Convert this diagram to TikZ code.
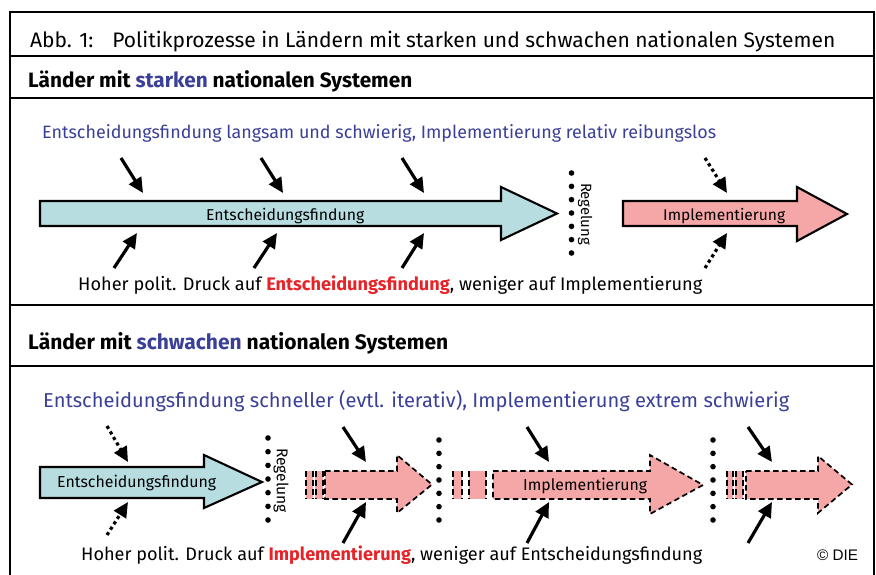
\documentclass[tikz,border=0pt]{standalone}
\usepackage{fontspec}
\setmainfont{Fira Sans}
\newfontfamily\arialf{Liberation Sans}
\usepackage{graphicx}
\usetikzlibrary{arrows.meta}
\definecolor{txtblue}{RGB}{58,63,151}
\definecolor{txtred}{RGB}{232,35,40}
\definecolor{fillblue}{RGB}{184,221,224}
\definecolor{fillred}{RGB}{245,166,166}
\newcommand\fitw[2]{\resizebox{#1pt}{!}{#2}}
\begin{document}
\begin{tikzpicture}[x=1pt,y=-1pt,
  frameline/.style={line width=1.9pt},
  solidshape/.style={draw=black,line width=2.1pt,line join=miter},
  dashshape/.style={draw=black,line width=1.7pt,dash pattern=on 5.5pt off 3.5pt,line join=miter},
  press/.style={line width=3.2pt,-{Triangle[length=15pt,width=14pt]}},
  pressdot/.style={press,dash pattern=on 3.2pt off 3.2pt},
  txt/.style={inner sep=0pt,anchor=base west},
  dot/.style={fill=black}
]
\useasboundingbox (0,0) rectangle (876,574);
% frame
\draw[frameline] (10,576) -- (10,12) -- (874,12) -- (874,576);
\draw[frameline] (10,56) -- (874,56);
\draw[frameline] (10,98) -- (874,98);
\draw[frameline] (10,305) -- (874,305);
\draw[frameline] (10,366) -- (874,366);

% titles
\node[txt] (title) at (30,47.5) {\fitw{805}{Abb. 1:\hspace{0.9em}Politikprozesse in Ländern mit starken und schwachen nationalen Systemen}};
\node[txt] (head1) at (28,87) {\fitw{384}{\bfseries Länder mit {\color{txtblue}starken} nationalen Systemen}};
\node[txt,text=txtblue] (sub1) at (42,138.5) {\fitw{674}{Entscheidungsfindung langsam und schwierig, Implementierung relativ reibungslos}};
\node[txt] (head2) at (28,349) {\fitw{420}{\bfseries Länder mit {\color{txtblue}schwachen} nationalen Systemen}};
\node[txt,text=txtblue] (sub2) at (43,407) {\fitw{746}{Entscheidungsfindung schneller (evtl. iterativ), Implementierung extrem schwierig}};

% ---------- top section ----------
\draw[solidshape,fill=fillblue] (40,201) -- (501,201) -- (501,187) -- (557,213.5) -- (501,240) -- (501,226) -- (40,226) -- cycle;
\node[txt] (ef1) at (206,220) {\fitw{158}{Entscheidungsfindung}};
\draw[solidshape,fill=fillred] (623,201) -- (797,201) -- (797,187) -- (847,214) -- (797,241) -- (797,226) -- (623,226) -- cycle;
\node[txt] (im1) at (663,220) {\fitw{122}{Implementierung}};

\foreach \i in {0,...,6} \fill[dot] (571.5,{173+\i*13.33}) circle (2.8pt);
\node[inner sep=0pt,rotate=-90] (reg1) at (585,214) {\fitw{62}{Regelung}};

\coordinate (t1s) at (121,158); \coordinate (t1e) at (143,193);
\coordinate (t2s) at (261,158); \coordinate (t2e) at (283,193);
\coordinate (t3s) at (402,158); \coordinate (t3e) at (424,193);
\coordinate (b1s) at (114,268); \coordinate (b1e) at (137,233);
\coordinate (b2s) at (254,268); \coordinate (b2e) at (277,233);
\coordinate (b3s) at (402,268); \coordinate (b3e) at (424,233);
\coordinate (t4s) at (705,158); \coordinate (t4e) at (727,193);
\coordinate (b4s) at (705,268); \coordinate (b4e) at (727,233);
\draw[press] (t1s) -- (t1e);
\draw[press] (t2s) -- (t2e);
\draw[press] (t3s) -- (t3e);
\draw[press] (b1s) -- (b1e);
\draw[press] (b2s) -- (b2e);
\draw[press] (b3s) -- (b3e);
\draw[pressdot] (t4s) -- (t4e);
\draw[pressdot] (b4s) -- (b4e);

\node[txt] (bot1) at (78,290) {\fitw{624}{Hoher polit. Druck auf {\bfseries\color{txtred}Entscheidungsfindung}, weniger auf Implementierung}};

% ---------- bottom section ----------
\draw[solidshape,fill=fillblue] (40,467) -- (204,467) -- (204,455) -- (262,482) -- (204,508) -- (204,498) -- (40,498) -- cycle;
\node[txt] (ef2) at (57,487) {\fitw{159}{Entscheidungsfindung}};

\foreach \i in {0,...,6} \fill[dot] (268,{438+\i*13.67}) circle (2.8pt);
\node[inner sep=0pt,rotate=-90] (reg2) at (281,480.5) {\fitw{65}{Regelung}};

% red dashed arrow 1
\fill[fillred] (306,471) rectangle (313,499);
\fill[fillred] (315,471) rectangle (323,499);
\draw[dashshape] (306,471) -- (306,499);
\draw[dashshape] (313,471) -- (313,499);
\draw[dashshape] (316,471) -- (316,499);
\draw[dashshape] (323,471) -- (323,499);
\draw[dashshape,fill=fillred] (325,471) -- (397,471) -- (397,455) -- (432,484.5) -- (397,513) -- (397,499) -- (325,499) -- cycle;

\foreach \i in {0,...,6} \fill[dot] (439,{440+\i*13.33}) circle (2.8pt);

% red dashed arrow 2
\fill[fillred] (453,471) rectangle (462,499);
\fill[fillred] (469,471) rectangle (486,499);
\draw[dashshape] (453,471) -- (453,499);
\draw[dashshape] (462,471) -- (462,499);
\draw[dashshape] (469,471) -- (469,499);
\draw[dashshape] (486,471) -- (486,499);
\draw[dashshape,fill=fillred] (493,471) -- (650,471) -- (650,455) -- (703,485) -- (650,514) -- (650,499) -- (493,499) -- cycle;
\node[txt] (im2) at (523,490) {\fitw{124}{Implementierung}};

\foreach \i in {0,...,6} \fill[dot] (713,{440+\i*13.33}) circle (2.8pt);

% red dashed arrow 3
\fill[fillred] (727,471) rectangle (733,499);
\fill[fillred] (735,471) rectangle (743,499);
\draw[dashshape] (727,471) -- (727,499);
\draw[dashshape] (733,471) -- (733,499);
\draw[dashshape] (736,471) -- (736,499);
\draw[dashshape] (743,471) -- (743,499);
\draw[dashshape,fill=fillred] (746,471) -- (818,471) -- (818,456) -- (852,484.5) -- (818,513) -- (818,499) -- (746,499) -- cycle;

\coordinate (u1s) at (107,426); \coordinate (u1e) at (128,462);
\coordinate (d1s) at (107,535); \coordinate (d1e) at (128,502);
\coordinate (u2s) at (343,427); \coordinate (u2e) at (366,462);
\coordinate (d2s) at (343,543); \coordinate (d2e) at (366,502);
\coordinate (u3s) at (527,427); \coordinate (u3e) at (549,462);
\coordinate (d3s) at (527,543); \coordinate (d3e) at (549,502);
\coordinate (u4s) at (748,427); \coordinate (u4e) at (772,462);
\coordinate (d4s) at (748,543); \coordinate (d4e) at (772,502);
\draw[pressdot] (u1s) -- (u1e);
\draw[pressdot] (d1s) -- (d1e);
\draw[press] (u2s) -- (u2e);
\draw[press] (d2s) -- (d2e);
\draw[press] (u3s) -- (u3e);
\draw[press] (d3s) -- (d3e);
\draw[press] (u4s) -- (u4e);
\draw[press] (d4s) -- (d4e);

\node[txt] (bot2) at (81,560) {\fitw{621}{Hoher polit. Druck auf {\bfseries\color{txtred}Implementierung}, weniger auf Entscheidungsfindung}};
\node[txt] (copy) at (817,560) {\fitw{41}{\arialf © DIE}};
\end{tikzpicture}
\end{document}
